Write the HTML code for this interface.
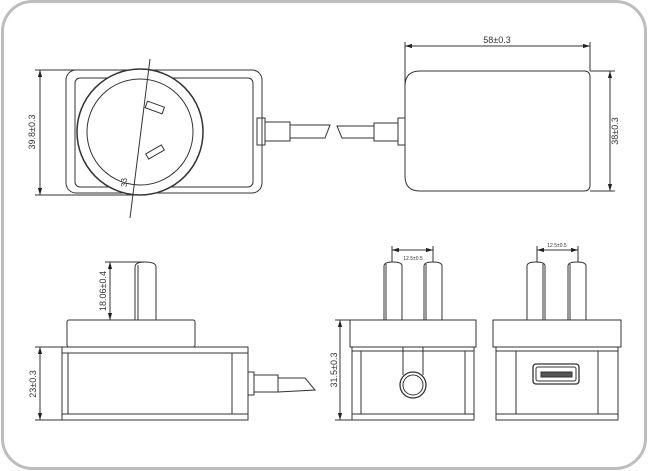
<!DOCTYPE html>
<html><head><meta charset="utf-8"><style>
html,body{margin:0;padding:0;background:#fff;}
svg{display:block;font-family:"Liberation Sans",sans-serif;}
</style></head><body>
<svg width="648" height="471" viewBox="0 0 648 471" xmlns="http://www.w3.org/2000/svg">
<defs>
<marker id="a" viewBox="0 0 10 10" refX="10" refY="5" markerWidth="7" markerHeight="7" orient="auto-start-reverse"><path d="M0,2 L10,5 L0,8 Z" fill="#222"/></marker>
</defs>
<rect x="2.5" y="1.5" width="643" height="467" rx="30" fill="#fff" stroke="#bdbdbd" stroke-width="3"/>
<g fill="none" stroke="#333" stroke-width="1">
<!-- Top-left view -->
<rect x="66" y="70" width="196" height="123" rx="10"/>
<rect x="75" y="78" width="178" height="109" rx="5"/>
<circle cx="140" cy="132" r="63" fill="#fff" stroke-width="1.5"/>
<circle cx="140" cy="132" r="53"/>
<line x1="150" y1="59" x2="130" y2="218"/>
<rect x="146" y="104" width="18" height="7" transform="rotate(20 155 107)"/>
<rect x="146" y="149" width="18" height="6" transform="rotate(-30 155 152)"/>
<text x="120" y="186" font-size="8" fill="#333" stroke="none" transform="rotate(-90 124 183)">33</text>
<rect x="257" y="118" width="8" height="27"/>
<rect x="265" y="122" width="25" height="19"/>
<path d="M290,125 L330,125 L325,138 L290,138"/>
<line x1="40" y1="70" x2="40" y2="195" marker-start="url(#a)" marker-end="url(#a)"/>
<line x1="35" y1="70" x2="100" y2="70"/>
<line x1="35" y1="195" x2="135" y2="195"/>
<!-- Top-right view -->
<path d="M420,71 L584,71 Q590,71 590,77 L590,185 Q590,191 584,191 L420,191 Q405,191 405,176 L405,86 Q405,71 420,71 Z"/>
<rect x="398" y="118" width="7" height="27"/>
<rect x="374" y="123" width="24" height="18"/>
<path d="M374,126 L337,126 L342,138 L374,138"/>
<line x1="405" y1="46" x2="590" y2="46" marker-start="url(#a)" marker-end="url(#a)"/>
<line x1="405" y1="42" x2="405" y2="118"/>
<line x1="590" y1="42" x2="590" y2="71"/>
<line x1="610" y1="71" x2="610" y2="191" marker-start="url(#a)" marker-end="url(#a)"/>
<line x1="590" y1="71" x2="615" y2="71"/>
<line x1="590" y1="191" x2="615" y2="191"/>
<!-- Bottom-left view -->
<path d="M135,320 L135,267 Q135,262 145,262 Q156,262 156,267 L156,320"/>
<line x1="138" y1="265" x2="138" y2="320"/>
<rect x="67" y="320" width="128" height="27" rx="2"/>
<rect x="62" y="347" width="186" height="73"/>
<line x1="62" y1="353" x2="248" y2="353"/>
<line x1="62" y1="414" x2="248" y2="414"/>
<line x1="68" y1="353" x2="68" y2="414"/>
<line x1="232" y1="353" x2="232" y2="414"/>
<rect x="248" y="372" width="6" height="23"/>
<rect x="254" y="375" width="24" height="17"/>
<path d="M278,378 L305,378 L315,390 L278,392"/>
<line x1="110" y1="262" x2="110" y2="320" marker-start="url(#a)" marker-end="url(#a)"/>
<line x1="105" y1="262" x2="145" y2="262"/>
<line x1="40" y1="347" x2="40" y2="420" marker-start="url(#a)" marker-end="url(#a)"/>
<line x1="35" y1="347" x2="62" y2="347"/>
<line x1="35" y1="420" x2="62" y2="420"/>
<!-- Bottom-middle view -->
<path d="M384,320 L384,266 Q384,262 393,262 Q402,262 402,266 L402,320"/>
<path d="M424,320 L424,266 Q424,262 433,262 Q442,262 442,266 L442,320"/>
<line x1="386" y1="264" x2="386" y2="320"/>
<line x1="426" y1="264" x2="426" y2="320"/>
<rect x="350" y="320" width="126" height="27"/>
<rect x="352" y="347" width="122" height="73"/>
<line x1="352" y1="351" x2="474" y2="351"/>
<line x1="352" y1="414" x2="474" y2="414"/>
<line x1="361" y1="351" x2="361" y2="414"/>
<line x1="465" y1="351" x2="465" y2="414"/>
<path d="M403,347 L403,375 M423,347 L423,375"/>
<circle cx="413" cy="385" r="13" fill="#fff" stroke-width="1.3"/>
<circle cx="413" cy="385" r="10"/>
<line x1="392" y1="250" x2="433" y2="250" marker-start="url(#a)" marker-end="url(#a)"/>
<line x1="392" y1="246" x2="392" y2="262"/>
<line x1="433" y1="246" x2="433" y2="262"/>
<line x1="340" y1="320" x2="340" y2="420" marker-start="url(#a)" marker-end="url(#a)"/>
<line x1="335" y1="320" x2="350" y2="320"/>
<line x1="335" y1="420" x2="352" y2="420"/>
<!-- Bottom-right view -->
<path d="M527,320 L527,266 Q527,262 536,262 Q545,262 545,266 L545,320"/>
<path d="M568,320 L568,266 Q568,262 577,262 Q586,262 586,266 L586,320"/>
<line x1="543" y1="264" x2="543" y2="320"/>
<line x1="570" y1="264" x2="570" y2="320"/>
<rect x="493" y="320" width="128" height="27"/>
<rect x="496" y="347" width="122" height="73"/>
<line x1="496" y1="351" x2="618" y2="351"/>
<line x1="496" y1="414" x2="618" y2="414"/>
<line x1="516" y1="351" x2="516" y2="414"/>
<line x1="598" y1="351" x2="598" y2="414"/>
<rect x="533" y="364" width="46" height="20" rx="3" stroke-width="1.3"/>
<rect x="536" y="367" width="40" height="14" rx="2"/>
<rect x="541" y="372" width="31" height="5" fill="#555"/>
<line x1="537" y1="250" x2="578" y2="250" marker-start="url(#a)" marker-end="url(#a)"/>
<line x1="537" y1="246" x2="537" y2="262"/>
<line x1="578" y1="246" x2="578" y2="262"/>
</g>
<g fill="#333" font-size="9">
<text x="35" y="132" text-anchor="middle" transform="rotate(-90 35 132)">39.8±0.3</text>
<text x="497" y="43" text-anchor="middle">58±0.3</text>
<text x="618" y="131" text-anchor="middle" transform="rotate(-90 618 131)">38±0.3</text>
<text x="106" y="291" text-anchor="middle" transform="rotate(-90 106 291)">18.06±0.4</text>
<text x="36" y="384" text-anchor="middle" transform="rotate(-90 36 384)">23±0.3</text>
<text x="337" y="370" text-anchor="middle" transform="rotate(-90 337 370)">31.5±0.3</text>
<text x="413" y="260" text-anchor="middle" font-size="5">12.5±0.5</text>
<text x="557" y="247" text-anchor="middle" font-size="5">12.5±0.5</text>
</g>
</svg>
</body></html>
